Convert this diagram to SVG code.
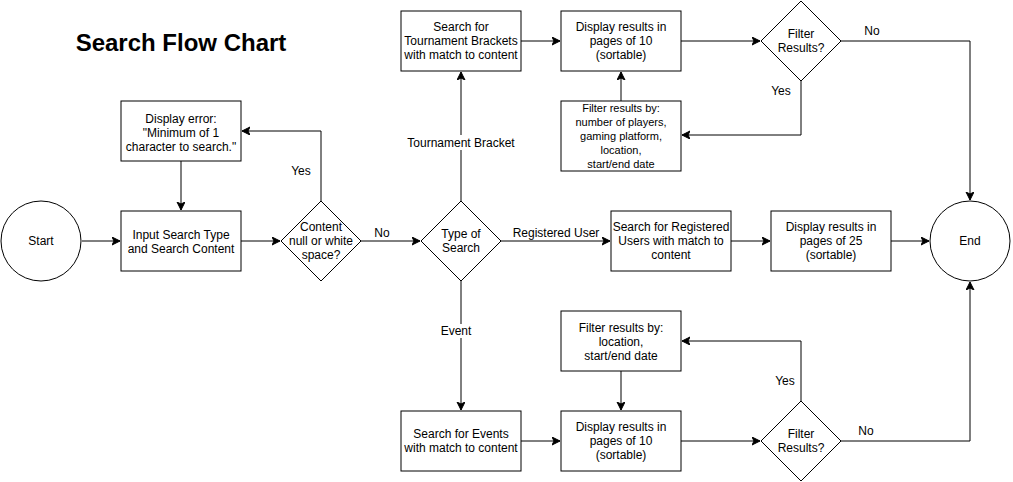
<svg xmlns="http://www.w3.org/2000/svg" width="1013" height="482" viewBox="0 0 1013 482">
<style>
.n{fill:#fff;stroke:#000;stroke-width:1}
.e{fill:none;stroke:#000;stroke-width:1;marker-end:url(#a)}
text{font-family:"Liberation Sans",Arial,sans-serif;font-size:12px;fill:#000;text-anchor:middle}
.s{font-size:11px}
.t{font-size:24px;font-weight:bold}
.bg{fill:#fff;stroke:none}
</style>
<defs>
<marker id="a" markerWidth="10" markerHeight="10" refX="8" refY="4" orient="auto" markerUnits="userSpaceOnUse">
<path d="M0,0 L8,4 L0,8 L2,4 Z" fill="#000" stroke="#000" stroke-width="1"/>
</marker>
</defs>
<rect width="1013" height="482" fill="#fff"/>
<text class="t" x="181" y="51">Search Flow Chart</text>

<g id="connectors">
<path class="e" d="M82,241 L120,241"/>
<path class="e" d="M241,241 L280,241"/>
<path class="e" d="M321,201 L321,131 L242,131"/>
<path class="e" d="M181,161 L181,210"/>
<path class="e" d="M361,241 L420,241"/>
<path class="e" d="M461,201 L461,72"/>
<path class="e" d="M521,41 L560,41"/>
<path class="e" d="M681,41 L760,41"/>
<path class="e" d="M621,101 L621,72"/>
<path class="e" d="M801,81 L801,135 L682,135"/>
<path class="e" d="M841,41 L970,41 L970,200"/>
<path class="e" d="M501,241 L610,241"/>
<path class="e" d="M731,241 L770,241"/>
<path class="e" d="M891,241 L929,241"/>
<path class="e" d="M461,281 L461,410"/>
<path class="e" d="M521,441 L560,441"/>
<path class="e" d="M681,441 L760,441"/>
<path class="e" d="M621,371 L621,410"/>
<path class="e" d="M801,401 L801,341 L682,341"/>
<path class="e" d="M841,441 L970,441 L970,282"/>
<text x="301" y="175">Yes</text>
<text x="382" y="237">No</text>
<rect class="bg" x="405" y="135" width="112" height="15"/>
<text x="461" y="147">Tournament Bracket</text>
<rect class="bg" x="510" y="226" width="92" height="14"/>
<text x="556" y="237">Registered User</text>
<rect class="bg" x="440" y="324" width="32" height="14"/>
<text x="456" y="335">Event</text>
<text x="781" y="95">Yes</text>
<text x="872" y="35">No</text>
<text x="785" y="385">Yes</text>
<text x="866" y="435">No</text>
</g>

<g id="start"><circle class="n" cx="41" cy="241" r="40"/><text x="41" y="245">Start</text></g>
<g id="input"><rect class="n" x="121" y="211" width="120" height="60"/><text x="181" y="239">Input Search Type</text><text x="181" y="253">and Search Content</text></g>
<g id="error"><rect class="n" x="121" y="101" width="120" height="60"/><text x="181" y="123">Display error:</text><text x="181" y="137">"Minimum of 1</text><text x="181" y="151">character to search."</text></g>
<g id="content"><path class="n" d="M321,201 L361,241 L321,281 L281,241 Z"/><text x="321" y="231">Content</text><text x="321" y="245">null or white</text><text x="321" y="259">space?</text></g>
<g id="type"><path class="n" d="M461,201 L501,241 L461,281 L421,241 Z"/><text x="461" y="238">Type of</text><text x="461" y="252">Search</text></g>
<g id="tournament"><rect class="n" x="401" y="11" width="120" height="60"/><text x="461" y="31">Search for</text><text x="461" y="45">Tournament Brackets</text><text x="461" y="59">with match to content</text></g>
<g id="display1"><rect class="n" x="561" y="11" width="120" height="60"/><text x="621" y="31">Display results in</text><text x="621" y="45">pages of 10</text><text x="621" y="59">(sortable)</text></g>
<g id="filter1"><path class="n" d="M801,1 L841,41 L801,81 L761,41 Z"/><text x="801" y="38">Filter</text><text x="801" y="52">Results?</text></g>
<g id="filterby1"><rect class="n" x="561" y="101" width="120" height="70"/><text class="s" x="621" y="112">Filter results by:</text><text class="s" x="621" y="126">number of players,</text><text class="s" x="621" y="140">gaming platform,</text><text class="s" x="621" y="154">location,</text><text class="s" x="621" y="168">start/end date</text></g>
<g id="registered"><rect class="n" x="611" y="211" width="120" height="60"/><text x="671" y="231">Search for Registered</text><text x="671" y="245">Users with match to</text><text x="671" y="259">content</text></g>
<g id="display25"><rect class="n" x="771" y="211" width="120" height="60"/><text x="831" y="231">Display results in</text><text x="831" y="245">pages of 25</text><text x="831" y="259">(sortable)</text></g>
<g id="end"><circle class="n" cx="970" cy="241" r="40"/><text x="970" y="245">End</text></g>
<g id="events"><rect class="n" x="401" y="411" width="120" height="60"/><text x="461" y="438">Search for Events</text><text x="461" y="452">with match to content</text></g>
<g id="display2"><rect class="n" x="561" y="411" width="120" height="60"/><text x="621" y="431">Display results in</text><text x="621" y="445">pages of 10</text><text x="621" y="459">(sortable)</text></g>
<g id="filterby2"><rect class="n" x="561" y="311" width="120" height="60"/><text x="621" y="332">Filter results by:</text><text x="621" y="346">location,</text><text x="621" y="360">start/end date</text></g>
<g id="filter2"><path class="n" d="M801,401 L841,441 L801,481 L761,441 Z"/><text x="801" y="438">Filter</text><text x="801" y="452">Results?</text></g>
</svg>
